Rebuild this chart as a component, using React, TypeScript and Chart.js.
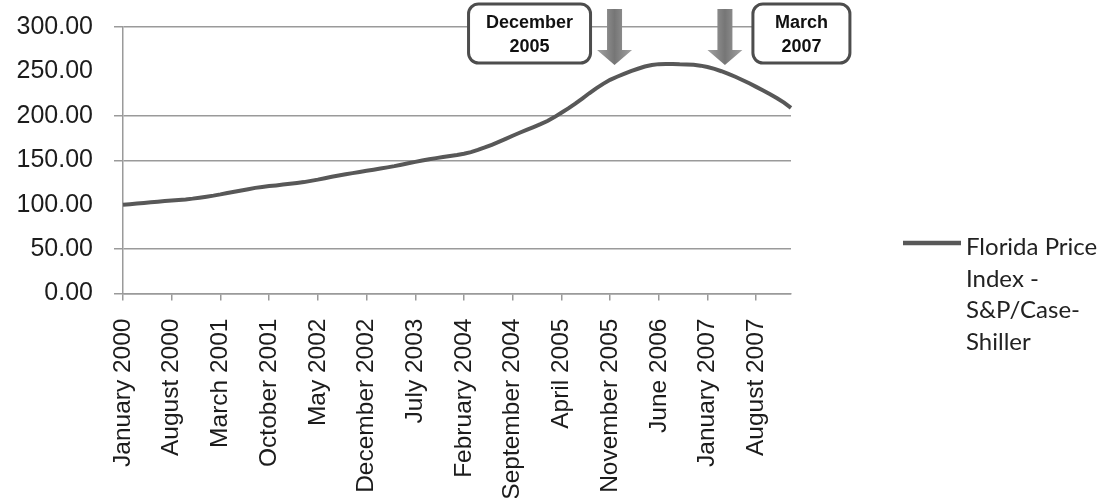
import React, { useEffect, useRef } from 'react';
import { Chart, registerables } from 'chart.js';

Chart.register(...registerables);

const MONTH_NAMES = ['January', 'February', 'March', 'April', 'May', 'June', 'July', 'August', 'September', 'October', 'November', 'December'];
const START_YEAR = 2000;
const MONTH_COUNT = 97; // January 2000 .. January 2008

const categories: string[] = [];
for (let i = 0; i < MONTH_COUNT; i++) {
  categories.push(MONTH_NAMES[i % 12] + ' ' + (START_YEAR + Math.floor(i / 12)));
}

const floridaIndex = [
  100, 100.6, 101.3, 102, 102.6, 103.3, 104, 104.6, 105.2, 105.9, 106.8, 107.9,
  109, 110.2, 111.6, 113.2, 114.6, 116, 117.4, 118.9, 120, 120.9, 121.7, 122.6,
  123.5, 124.4, 125.4, 126.8, 128.2, 129.8, 131.4, 132.8, 134.2, 135.5, 136.8, 138.1,
  139.4, 140.7, 142, 143.4, 145, 146.6, 148.2, 149.7, 151.1, 152.4, 153.6, 154.8,
  156, 157.4, 159.2, 161.6, 164.4, 167.4, 170.6, 174, 177.6, 181, 184.2, 187.4,
  190.6, 194.2, 198.6, 203.5, 208.4, 213.8, 219.5, 225.4, 231, 236, 240.5, 244,
  247.2, 250.3, 253, 255.5, 257.3, 258.2, 258.4, 258.3, 258, 257.9, 257.4, 256.5,
  255, 252.8, 250.2, 247.3, 244, 240.4, 236.6, 232.6, 228.5, 224.3, 219.8, 214.8,
  209,
];

const Y_MIN = 0;
const Y_MAX = 300;
const Y_STEP = 50;
const hiddenGridValues = [100, 250];
const TICK_EVERY = 7;

const seriesLabel = 'Florida Price Index - S&P/Case-Shiller';
const legendLines = ['Florida Price', 'Index -', 'S&P/Case-', 'Shiller'];

const calloutCategories = ['December 2005', 'March 2007'];
const calloutTexts = [['December', '2005'], ['March', '2007']];
const calloutSides = ['left', 'right'];
const calloutNudges = [-2.5, 3.5];

const LINE_COLOR = '#585858';
const GRID_COLOR = '#9a9a9a';
const TEXT_COLOR = '#1c1c1c';

function roundRect(ctx: CanvasRenderingContext2D, x: number, y: number, w: number, h: number, r: number) {
  ctx.beginPath();
  ctx.moveTo(x + r, y);
  ctx.lineTo(x + w - r, y);
  ctx.arcTo(x + w, y, x + w, y + r, r);
  ctx.lineTo(x + w, y + h - r);
  ctx.arcTo(x + w, y + h, x + w - r, y + h, r);
  ctx.lineTo(x + r, y + h);
  ctx.arcTo(x, y + h, x, y + h - r, r);
  ctx.lineTo(x, y + r);
  ctx.arcTo(x, y, x + r, y, r);
  ctx.closePath();
}

function isHiddenGrid(c: any): boolean {
  let v: any = c && c.tick ? c.tick.value : undefined;
  if (v === undefined && c && c.scale && c.scale.ticks && c.scale.ticks[c.index]) v = c.scale.ticks[c.index].value;
  if (typeof v !== 'number') return false;
  return hiddenGridValues.some((h) => Math.abs(h - v) < 0.01);
}

const calloutPlugin = {
  id: 'callouts',
  afterDraw(chart: any) {
    const ctx: CanvasRenderingContext2D = chart.ctx;
    const xs = chart.scales.x;
    ctx.save();
    calloutCategories.forEach((cat, i) => {
      const idx = categories.indexOf(cat);
      const cx = xs.getPixelForValue(idx) + calloutNudges[i];
      const shaftW = 15, headW = 35, top = 9, headTop = 50, tip = 65;
      const g = ctx.createLinearGradient(cx - headW / 2, 0, cx + headW / 2, 0);
      g.addColorStop(0, '#a3a3a3');
      g.addColorStop(0.5, '#767676');
      g.addColorStop(1, '#a3a3a3');
      ctx.fillStyle = g;
      ctx.beginPath();
      ctx.moveTo(cx - shaftW / 2, top);
      ctx.lineTo(cx + shaftW / 2, top);
      ctx.lineTo(cx + shaftW / 2, headTop);
      ctx.lineTo(cx + headW / 2, headTop);
      ctx.lineTo(cx, tip);
      ctx.lineTo(cx - headW / 2, headTop);
      ctx.lineTo(cx - shaftW / 2, headTop);
      ctx.closePath();
      ctx.fill();
      const left = calloutSides[i] === 'left';
      const bw = left ? 122 : 97;
      const bx = left ? cx - 24 - bw : cx + 28;
      const by = 4, bh = 59;
      roundRect(ctx, bx, by, bw, bh, 10);
      ctx.fillStyle = '#ffffff';
      ctx.fill();
      ctx.lineWidth = 3;
      ctx.strokeStyle = '#4d4d4d';
      ctx.stroke();
      ctx.fillStyle = '#111111';
      ctx.font = 'bold 18px "Liberation Sans", Arial, sans-serif';
      ctx.textAlign = 'center';
      ctx.textBaseline = 'middle';
      const lines = calloutTexts[i];
      ctx.fillText(lines[0], bx + bw / 2, by + 19);
      ctx.fillText(lines[1], bx + bw / 2, by + 43);
    });
    ctx.restore();
  },
};

const legendPlugin = {
  id: 'sideLegend',
  afterDraw(chart: any) {
    const ctx: CanvasRenderingContext2D = chart.ctx;
    ctx.save();
    ctx.strokeStyle = LINE_COLOR;
    ctx.lineWidth = 4.5;
    ctx.beginPath();
    ctx.moveTo(903, 243);
    ctx.lineTo(961, 243);
    ctx.stroke();
    ctx.fillStyle = '#222222';
    ctx.font = '24px Lato, "Open Sans", sans-serif';
    ctx.textAlign = 'left';
    ctx.textBaseline = 'alphabetic';
    legendLines.forEach((t, i) => {
      ctx.fillText(t, 966, 255 + i * 31.7);
    });
    ctx.restore();
  },
};

export default function App() {
  const ref = useRef<HTMLCanvasElement | null>(null);
  useEffect(() => {
    if (!ref.current) return;
    const chart = new Chart(ref.current, {
      type: 'line',
      data: {
        labels: categories,
        datasets: [
          {
            label: seriesLabel,
            data: floridaIndex,
            borderColor: LINE_COLOR,
            backgroundColor: LINE_COLOR,
            borderWidth: 4,
            pointRadius: 0,
            tension: 0,
            fill: false,
          },
        ],
      },
      options: {
        animation: false,
        responsive: true,
        maintainAspectRatio: false,
        layout: { padding: { left: 0, top: 27, right: 328, bottom: 0 } },
        plugins: {
          legend: { display: false },
          tooltip: { enabled: false },
        },
        scales: {
          x: {
            type: 'category',
            offset: false,
            afterFit: (s: any) => { s.height = 204.5; s.paddingLeft = 0; s.paddingRight = 0; },
            afterBuildTicks: (s: any) => {
              s.ticks = s.ticks.filter((t: any) => t.value % TICK_EVERY === 0);
            },
            grid: {
              drawOnChartArea: false,
              drawTicks: true,
              tickLength: 7,
              color: GRID_COLOR,
              lineWidth: 1.5,
            },
            border: { display: true, color: GRID_COLOR, width: 1.5 },
            ticks: {
              autoSkip: false,
              minRotation: 90,
              maxRotation: 90,
              padding: 18,
              color: TEXT_COLOR,
              font: { family: '"Liberation Sans", Arial, sans-serif', size: 24.5 },
            },
          },
          y: {
            min: Y_MIN,
            max: Y_MAX,
            afterFit: (s: any) => { s.width = 123; s.paddingTop = 0; s.paddingBottom = 0; },
            grid: {
              color: (c: any) => (isHiddenGrid(c) ? 'rgba(255,255,255,0)' : GRID_COLOR),
              lineWidth: (c: any) => (isHiddenGrid(c) ? 0 : 1.5),
              tickLength: 9,
            },
            border: { display: true, color: GRID_COLOR, width: 1.5 },
            ticks: {
              stepSize: Y_STEP,
              padding: 21,
              color: TEXT_COLOR,
              font: { family: '"Liberation Sans", Arial, sans-serif', size: 25 },
              callback: (v: any) => Number(v).toFixed(2),
            },
          },
        },
      },
      plugins: [calloutPlugin, legendPlugin],
    });
    return () => chart.destroy();
  }, []);
  return (
    <div style={{ position: 'absolute', left: 0, top: 0, width: 1119, height: 498, background: '#ffffff' }}>
      <canvas ref={ref} />
    </div>
  );
}
